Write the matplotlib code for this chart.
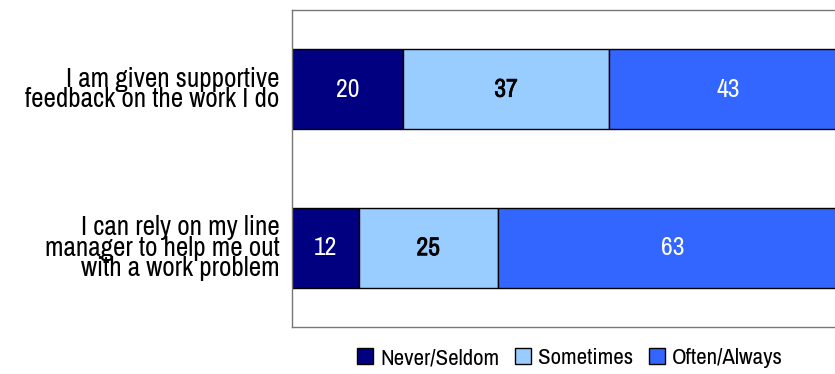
import matplotlib
matplotlib.use("Agg")
import matplotlib.pyplot as plt
import matplotlib.patheffects as pe
from matplotlib.patches import Patch

statements = [
    "I am given supportive\nfeedback on the work I do",
    "I can rely on my line\nmanager to help me out\nwith a work problem",
]
never_seldom = [20, 12]
sometimes = [37, 25]
often_always = [43, 63]

series = [
    ("Never/Seldom", never_seldom, "#000080", "white", 0.0),
    ("Sometimes", sometimes, "#99CCFF", "black", 0.5),
    ("Often/Always", often_always, "#3366FF", "white", 0.0),
]

plt.rcParams["font.family"] = ["Archivo Narrow", "DejaVu Sans"]

fig = plt.figure(figsize=(8.35, 3.74), dpi=100)
# axes runs past the right edge of the figure, so the 100% end is clipped
ax = fig.add_axes([292 / 835, 1 - 327 / 374, 556 / 835, 317 / 374])

ypos = list(range(len(statements)))
left = [0] * len(statements)
for name, vals, color, txt_color, stroke in series:
    bars = ax.barh(ypos, vals, left=left, height=0.503, color=color,
                   edgecolor="black", linewidth=1.0, label=name)
    for b, v in zip(bars, vals):
        t = ax.text(b.get_x() + b.get_width() / 2, b.get_y() + b.get_height() / 2,
                    str(v), ha="center", va="center", color=txt_color, fontsize=18.5)
        if stroke:
            # fake a heavier weight for the dark labels
            t.set_path_effects([pe.withStroke(linewidth=stroke, foreground=txt_color)])
    left = [l + v for l, v in zip(left, vals)]

ax.set_xlim(0, 100)
ax.set_ylim(1.5, -0.5)
ax.set_yticks(ypos)
ax.set_yticklabels(statements, fontsize=19.5, linespacing=0.78)
ax.tick_params(axis="y", length=0, pad=9)
ax.set_xticks([])
for s in ax.spines.values():
    s.set_color("#777777")
    s.set_linewidth(1.0)

handles = [Patch(facecolor=c, edgecolor="black", label=n) for n, _, c, _, _ in series]
fig.legend(handles=handles, loc="center", bbox_to_anchor=(570 / 835, 1 - 358 / 374),
           ncol=3, frameon=False, fontsize=16.5, handlelength=0.7, handleheight=0.7,
           handletextpad=0.3, columnspacing=0.7)

fig.savefig("out.png", dpi=100)
